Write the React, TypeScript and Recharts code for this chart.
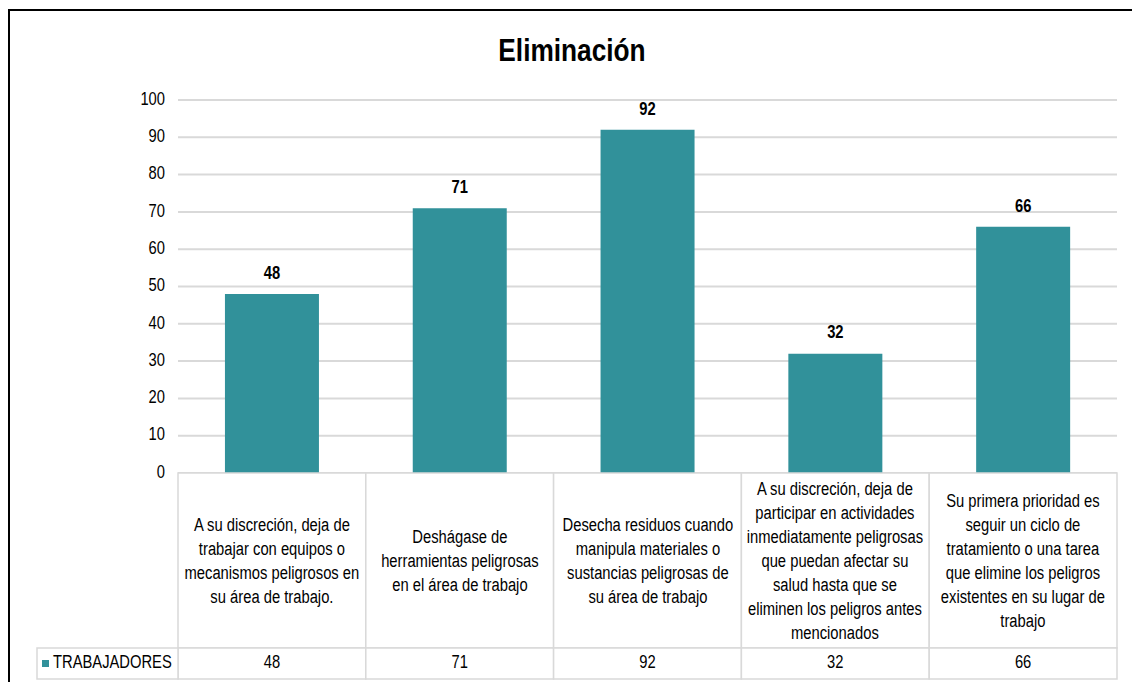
import { Bar, BarChart, CartesianGrid, LabelList, XAxis, YAxis } from "recharts";

const categories = [
  "A su discreción, deja de trabajar con equipos o mecanismos peligrosos en su área de trabajo.",
  "Deshágase de herramientas peligrosas en el área de trabajo",
  "Desecha residuos cuando manipula materiales o sustancias peligrosas de su área de trabajo",
  "A su discreción, deja de participar en actividades inmediatamente peligrosas que puedan afectar su salud hasta que se eliminen los peligros antes mencionados",
  "Su primera prioridad es seguir un ciclo de tratamiento o una tarea que elimine los peligros existentes en su lugar de trabajo",
];
const trabajadores = [48, 71, 92, 32, 66];
const yTicks = [0, 10, 20, 30, 40, 50, 60, 70, 80, 90, 100];
const seriesName = "TRABAJADORES";
const title = "Eliminación";

const data = categories.map((name, i) => ({ name, value: trabajadores[i] }));

// Arial Narrow is not installed: squeeze Liberation Sans (Arial metrics) instead
const FONT = "'Liberation Sans', Arial, sans-serif";
const SQ = 0.82;
const TEAL = "#31919a";
const CELL = "#d9d9d9";
const CAT_H = 175;
const VAL_H = 31;

function NarrowText({ x, y, anchor = "middle", size = 18, bold = false, children }: any) {
  return (
    <text
      transform={`translate(${x},${y}) scale(${SQ},1)`}
      textAnchor={anchor}
      dominantBaseline="middle"
      fontFamily={FONT}
      fontSize={size}
      fontWeight={bold ? "bold" : "normal"}
      fill="#000"
    >
      {children}
    </text>
  );
}

function YTick(props: any) {
  const { x, y, payload } = props;
  return <NarrowText x={x} y={y} anchor="end">{payload.value}</NarrowText>;
}

function BarLabel(props: any) {
  const { x, y, width, value } = props;
  return <NarrowText x={x + width / 2} y={y - 20} bold>{value}</NarrowText>;
}

function TableTick(props: any) {
  const { x, y, payload, index } = props;
  const colW = payload.offset ? payload.offset * 2 : 188;
  const left = x - colW / 2;
  const value = trabajadores[index];
  const pad = 5;
  const innerW = (colW - pad * 2) / SQ;
  return (
    <g>
      <rect x={left} y={y} width={colW} height={CAT_H} fill="#fff" stroke={CELL} strokeWidth={1.5} />
      <foreignObject x={left} y={y} width={colW} height={CAT_H}>
        <div
          style={{
            width: innerW,
            height: CAT_H,
            marginLeft: pad,
            transform: `scaleX(${SQ})`,
            transformOrigin: "0 0",
            display: "flex",
            alignItems: "center",
            justifyContent: "center",
            textAlign: "center",
            fontFamily: FONT,
            fontSize: 18,
            lineHeight: "24px",
            color: "#000",
          }}
        >
          {payload.value}
        </div>
      </foreignObject>
      <rect x={left} y={y + CAT_H} width={colW} height={VAL_H} fill="#fff" stroke={CELL} strokeWidth={1.5} />
      <NarrowText x={x} y={y + CAT_H + VAL_H / 2}>{value}</NarrowText>
      {index === 0 && (
        <g>
          <rect x={37} y={y + CAT_H} width={left - 37} height={VAL_H} fill="#fff" stroke={CELL} strokeWidth={1.5} />
          <rect x={42} y={y + CAT_H + 12} width={7} height={7} fill={TEAL} />
          <NarrowText x={53} y={y + CAT_H + VAL_H / 2} anchor="start">{seriesName}</NarrowText>
        </g>
      )}
    </g>
  );
}

export default function App() {
  return (
    <div style={{ position: "absolute", left: 0, top: 0, width: 1132, height: 682, overflow: "hidden", background: "#fff" }}>
      <div
        style={{
          position: "absolute",
          left: 8,
          top: 9,
          width: 1124,
          height: 673,
          borderTop: "2px solid #000",
          borderLeft: "2px solid #000",
          boxSizing: "border-box",
        }}
      />
      <div
        style={{
          position: "absolute",
          left: 572,
          top: 30,
          transform: `translateX(-50%) scaleX(${SQ})`,
          whiteSpace: "nowrap",
          fontFamily: FONT,
          fontWeight: "bold",
          fontSize: 32,
          lineHeight: "40px",
          color: "#000",
        }}
      >
        {title}
      </div>
      <div style={{ position: "absolute", left: 0, top: 0 }}>
        <BarChart
          width={1132}
          height={682}
          data={data}
          margin={{ top: 100, right: 15, bottom: 3, left: 0 }}
          barCategoryGap="25%"
        >
          <CartesianGrid vertical={false} stroke={CELL} strokeWidth={2} />
          <XAxis
            dataKey="name"
            interval={0}
            height={206}
            tickLine={false}
            axisLine={false}
            tickSize={0}
            tickMargin={0}
            tick={<TableTick />}
          />
          <YAxis
            width={178}
            domain={[0, 100]}
            ticks={yTicks}
            interval={0}
            axisLine={false}
            tickLine={false}
            tickSize={6}
            tickMargin={7}
            tick={<YTick />}
          />
          <Bar dataKey="value" fill={TEAL} isAnimationActive={false}>
            <LabelList dataKey="value" content={<BarLabel />} />
          </Bar>
        </BarChart>
      </div>
    </div>
  );
}
